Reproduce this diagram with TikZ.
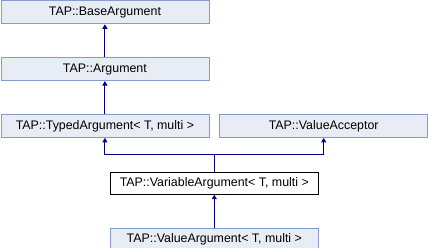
\documentclass[tikz,border=0pt]{standalone}
\usepackage{fontspec}
\setmainfont{Liberation Sans}
\usetikzlibrary{arrows.meta,positioning,calc}

\definecolor{boxfill}{HTML}{E8ECF4}
\definecolor{boxline}{HTML}{869BCD}
\definecolor{linkblue}{HTML}{000080}

\begin{document}
\begin{tikzpicture}[
    node distance=33pt,
    every node/.style={font=\fontsize{12.4}{14}\selectfont},
    cls/.style={draw=boxline, fill=boxfill, minimum width=208pt, minimum height=23pt, inner sep=0pt, line width=0.8pt},
    current/.style={draw=black, fill=white, minimum width=208pt, minimum height=22pt, inner sep=0pt, line width=0.8pt},
    inherit/.style={-{Triangle[length=4.5pt,width=5pt]}, draw=linkblue, line width=0.9pt}
]
\useasboundingbox (0,0) rectangle (428pt,-248pt);
\node[cls, anchor=north west] (base) at (0.5pt,-0.5pt) {TAP::BaseArgument};
\node[cls, below=of base] (arg) {TAP::Argument};
\node[cls, below=of arg] (typed) {TAP::TypedArgument< T, multi >};
\node[cls, right=10pt of typed] (acceptor) {TAP::ValueAcceptor};
\coordinate (join) at ($(typed.south)!.5!(acceptor.south)+(0,-17pt)$);
\node[current, below=17pt of join] (variable) {TAP::VariableArgument< T, multi >};
\node[cls, below=of variable] (value) {TAP::ValueArgument< T, multi >};
\draw[inherit] (arg) -- (base);
\draw[inherit] (typed) -- (arg);
\draw[draw=linkblue, line width=0.9pt] (variable) -- (join);
\draw[inherit] (join) -| (typed);
\draw[inherit] (join) -| (acceptor);
\draw[inherit] (value) -- (variable);
\end{tikzpicture}
\end{document}
